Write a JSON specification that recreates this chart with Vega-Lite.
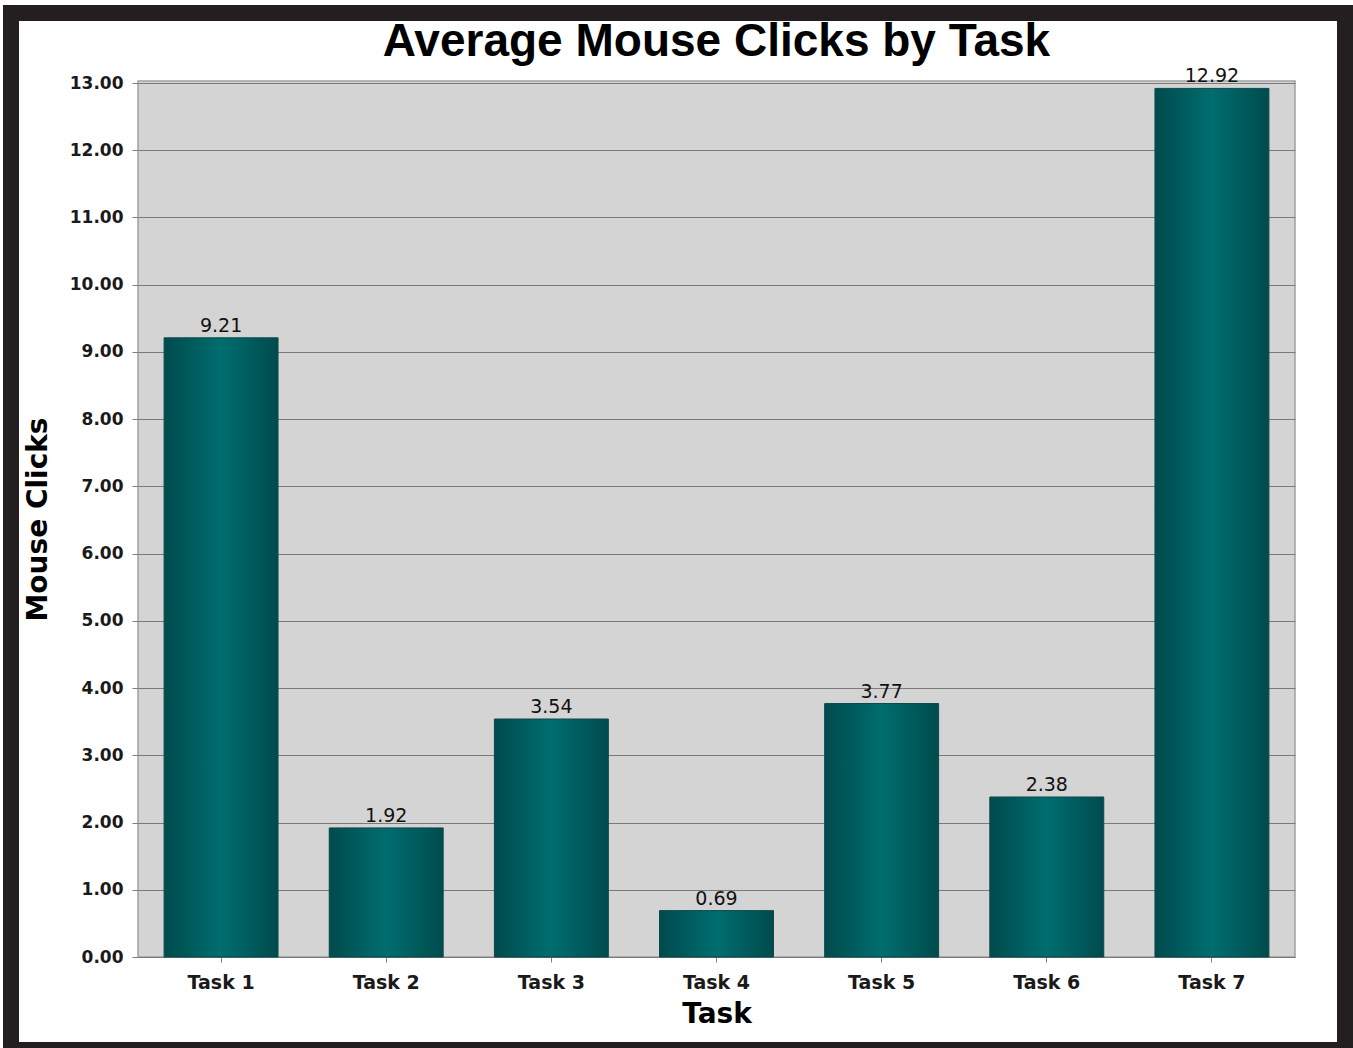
{
  "$schema": "https://vega.github.io/schema/vega-lite/v6.json",
  "autosize": {"type": "none"},
  "width": 1157,
  "height": 876,
  "padding": {"left": 138, "top": 81, "right": 58, "bottom": 91},
  "background": "white",
  "title": {
    "text": "Average Mouse Clicks by Task",
    "font": "Liberation Sans",
    "fontSize": 46,
    "fontWeight": "bold",
    "color": "#000000",
    "anchor": "middle",
    "frame": "group",
    "baseline": "top",
    "offset": 0,
    "dy": 61
  },
  "config": {
    "view": {"fill": "#d4d4d4", "stroke": "#a0a0a0", "strokeWidth": 1.5},
    "font": "DejaVu Sans"
  },
  "datasets": {
    "tasks": [
      {"task": "Task 1", "clicks": 9.21},
      {"task": "Task 2", "clicks": 1.92},
      {"task": "Task 3", "clicks": 3.54},
      {"task": "Task 4", "clicks": 0.69},
      {"task": "Task 5", "clicks": 3.77},
      {"task": "Task 6", "clicks": 2.38},
      {"task": "Task 7", "clicks": 12.92}
    ],
    "frame": [{"f": 1}]
  },
  "layer": [
    {
      "data": {"name": "tasks"},
      "mark": {
        "type": "bar",
        "stroke": "#0b4a4b",
        "strokeWidth": 1,
        "color": {
          "gradient": "linear",
          "x1": 0, "x2": 1, "y1": 0, "y2": 0,
          "stops": [
            {"offset": 0, "color": "#004b4d"},
            {"offset": 0.5, "color": "#006d6f"},
            {"offset": 1, "color": "#004b4d"}
          ]
        }
      },
      "encoding": {
        "x": {
          "field": "task",
          "type": "nominal",
          "sort": null,
          "scale": {"paddingInner": 0.31, "paddingOuter": 0.158},
          "axis": {
            "title": "Task",
            "titleFont": "DejaVu Sans",
            "titleFontSize": 28,
            "titleFontWeight": "bold",
            "titleColor": "#000000",
            "titlePadding": 8,
            "labelFont": "DejaVu Sans",
            "labelFontSize": 19,
            "labelFontWeight": "bold",
            "labelColor": "#1a1a1a",
            "labelAngle": 0,
            "labelPadding": 11,
            "ticks": true,
            "tickSize": 5,
            "tickColor": "#808080",
            "domain": false,
            "grid": false
          }
        },
        "y": {
          "field": "clicks",
          "type": "quantitative",
          "scale": {"domain": [0, 13.03], "nice": false},
          "axis": {
            "title": "Mouse Clicks",
            "titleFont": "DejaVu Sans",
            "titleFontSize": 28,
            "titleFontWeight": "bold",
            "titleColor": "#000000",
            "titlePadding": 17,
            "values": [0,1,2,3,4,5,6,7,8,9,10,11,12,13],
            "format": ".2f",
            "labelFont": "DejaVu Sans",
            "labelFontSize": 17,
            "labelFontWeight": "bold",
            "labelColor": "#1a1a1a",
            "labelPadding": 9,
            "tickSize": 6,
            "tickColor": "#808080",
            "domain": false,
            "grid": true,
            "gridColor": "#7a7a7a",
            "gridWidth": 1,
            "gridOpacity": 1
          }
        }
      }
    },
    {
      "data": {"name": "tasks"},
      "mark": {
        "type": "text",
        "baseline": "bottom",
        "dy": -2,
        "font": "DejaVu Sans",
        "fontSize": 19,
        "fontWeight": "normal",
        "color": "#111111"
      },
      "encoding": {
        "x": {"field": "task", "type": "nominal", "sort": null},
        "y": {"field": "clicks", "type": "quantitative"},
        "text": {"field": "clicks", "type": "quantitative", "format": ".2f"}
      }
    },
    {
      "data": {"name": "frame"},
      "mark": {
        "type": "rect",
        "fill": null,
        "filled": false,
        "stroke": "#231f20",
        "strokeWidth": 16,
        "clip": false
      },
      "encoding": {
        "x": {"value": -127},
        "x2": {"value": 1207},
        "y": {"value": -68},
        "y2": {"value": 969}
      }
    }
  ]
}
